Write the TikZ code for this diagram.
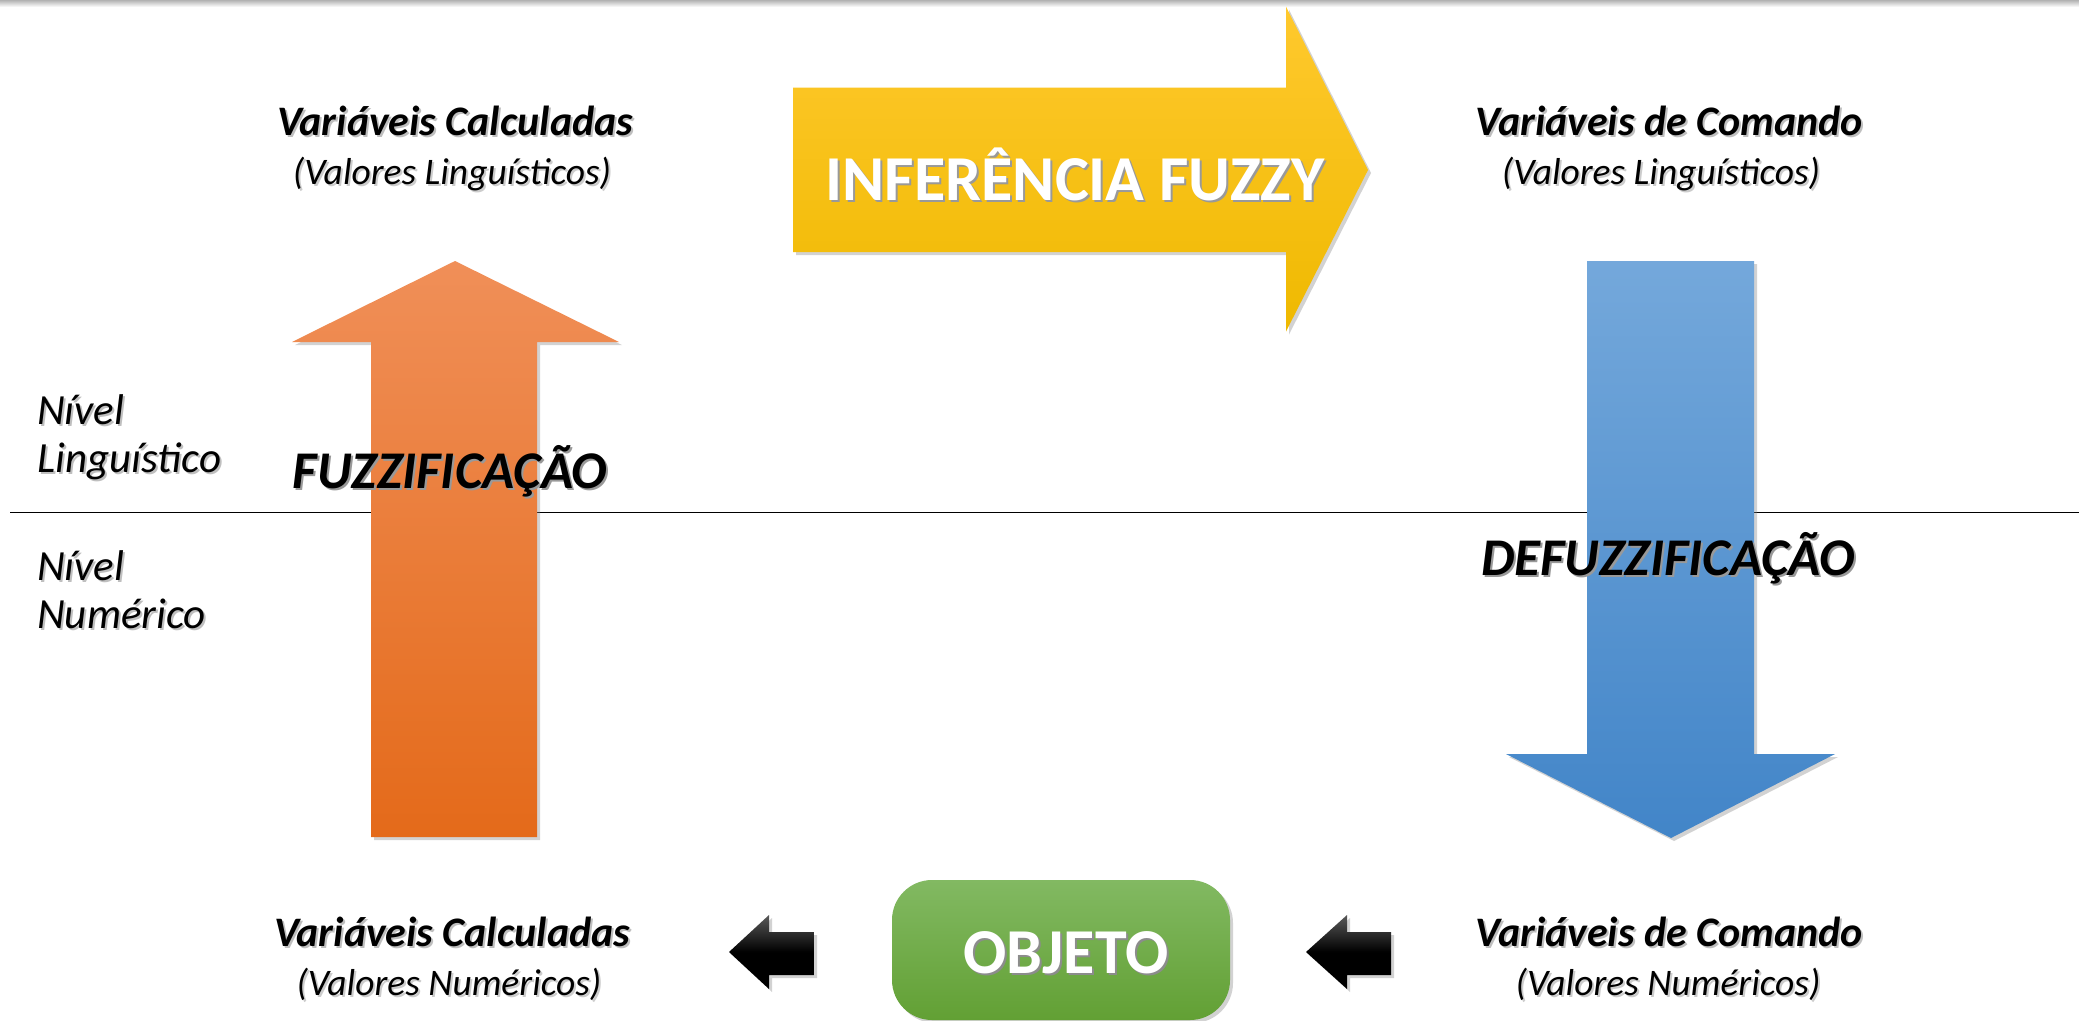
\documentclass[tikz,border=0pt]{standalone}
\usepackage{fontspec}
\setmainfont{Carlito}
\usetikzlibrary{shadows}
\definecolor{yelT}{HTML}{FFC92E}
\definecolor{yelB}{HTML}{EFB900}
\definecolor{oraT}{HTML}{F08F58}
\definecolor{oraB}{HTML}{E46A1A}
\definecolor{bluT}{HTML}{74A8DB}
\definecolor{bluB}{HTML}{4285C8}
\definecolor{grnT}{HTML}{82B962}
\definecolor{grnB}{HTML}{62A034}
\newcommand{\shtxt}[2][black!40]{\leavevmode\rlap{\color{#1}\raisebox{-2pt}{\hspace{2pt}#2}}#2}
\tikzset{
  shadowed/.style={drop shadow={opacity=0.35, shadow xshift=3pt, shadow yshift=-3pt}},
  bigital/.style={font=\fontsize{53}{60}\selectfont\bfseries\itshape, inner sep=0pt},
  varhead/.style={font=\fontsize{42}{48}\selectfont\bfseries\itshape, inner sep=0pt},
  varsub/.style={font=\fontsize{37.5}{44}\selectfont\itshape, inner sep=0pt},
  level/.style={font=\fontsize{43}{48}\selectfont\itshape, align=left, anchor=west, inner sep=0pt},
}
\begin{document}
\begin{tikzpicture}[x=1pt,y=-1pt]
\useasboundingbox (0,0) rectangle (2079,1020);
\fill[white] (0,0) rectangle (2079,1020);
% top shadow
\shade[top color=black!30, bottom color=white] (0,0) rectangle (2079,7);
% separator line
\draw[line width=1pt] (10,512) -- (2079,512);
% yellow arrow
\path[top color=yelT, bottom color=yelB, shadowed]
  (793,87.5) -- (1286,87.5) -- (1286,6.6) -- (1368,170) -- (1286,331.5) -- (1286,252) -- (793,252) -- cycle;
% orange arrow
\path[top color=oraT, bottom color=oraB, shadowed]
  (455,261) -- (619,342) -- (537,342) -- (537,837) -- (371,837) -- (371,342) -- (292,342) -- cycle;
% blue arrow
\path[top color=bluT, bottom color=bluB, shadowed]
  (1587,261) -- (1754,261) -- (1754,754) -- (1835,754) -- (1671,838) -- (1506,754) -- (1587,754) -- cycle;
% black arrows
\path[top color=black!65, bottom color=black, middle color=black, shadowed]
  (729,952) -- (769,915) -- (769,932) -- (814,932) -- (814,975) -- (769,975) -- (769,989) -- cycle;
\path[top color=black!65, bottom color=black, middle color=black, shadowed]
  (1306,952) -- (1347,915) -- (1347,932) -- (1391,932) -- (1391,975) -- (1347,975) -- (1347,989) -- cycle;
% objeto box
\node[rounded corners=40pt, minimum width=338pt, minimum height=140pt, top color=grnT, bottom color=grnB, shadowed] (objeto) at (1061,950) {};
\node[font=\fontsize{64}{70}\selectfont\bfseries, text=white, inner sep=0pt] (objtxt) at (1066,954) {\shtxt[black!45]{OBJETO}};
% texts
\node[font=\fontsize{64}{70}\selectfont\bfseries, text=white, inner sep=0pt] (inf) at (1075,175) {\shtxt[black!40]{INFERÊNCIA FUZZY}};
\node[bigital] (fuzz) at (450,472) {\shtxt{FUZZIFICAÇÃO}};
\node[bigital] (defuzz) at (1668,559) {\shtxt{DEFUZZIFICAÇÃO}};
\node[level] (nling) at (37,438) {\shtxt[black!25]{Nível}\\\shtxt[black!25]{Linguístico}};
\node[level] (nnum) at (37,591) {\shtxt[black!25]{Nível}\\\shtxt[black!25]{Numérico}};
\node[varhead] (vc1) at (455,122) {\shtxt[black!25]{Variáveis Calculadas}};
\node[varsub] (vc1s) at (452,175) {\shtxt[black!20]{(Valores Linguísticos)}};
\node[varhead] (vcm1) at (1669,122) {\shtxt[black!25]{Variáveis de Comando}};
\node[varsub] (vcm1s) at (1661,175) {\shtxt[black!20]{(Valores Linguísticos)}};
\node[varhead] (vc2) at (452,933) {\shtxt[black!25]{Variáveis Calculadas}};
\node[varsub] (vc2s) at (449,985) {\shtxt[black!20]{(Valores Numéricos)}};
\node[varhead] (vcm2) at (1669,933) {\shtxt[black!25]{Variáveis de Comando}};
\node[varsub] (vcm2s) at (1668,985) {\shtxt[black!20]{(Valores Numéricos)}};
\end{tikzpicture}
\end{document}
